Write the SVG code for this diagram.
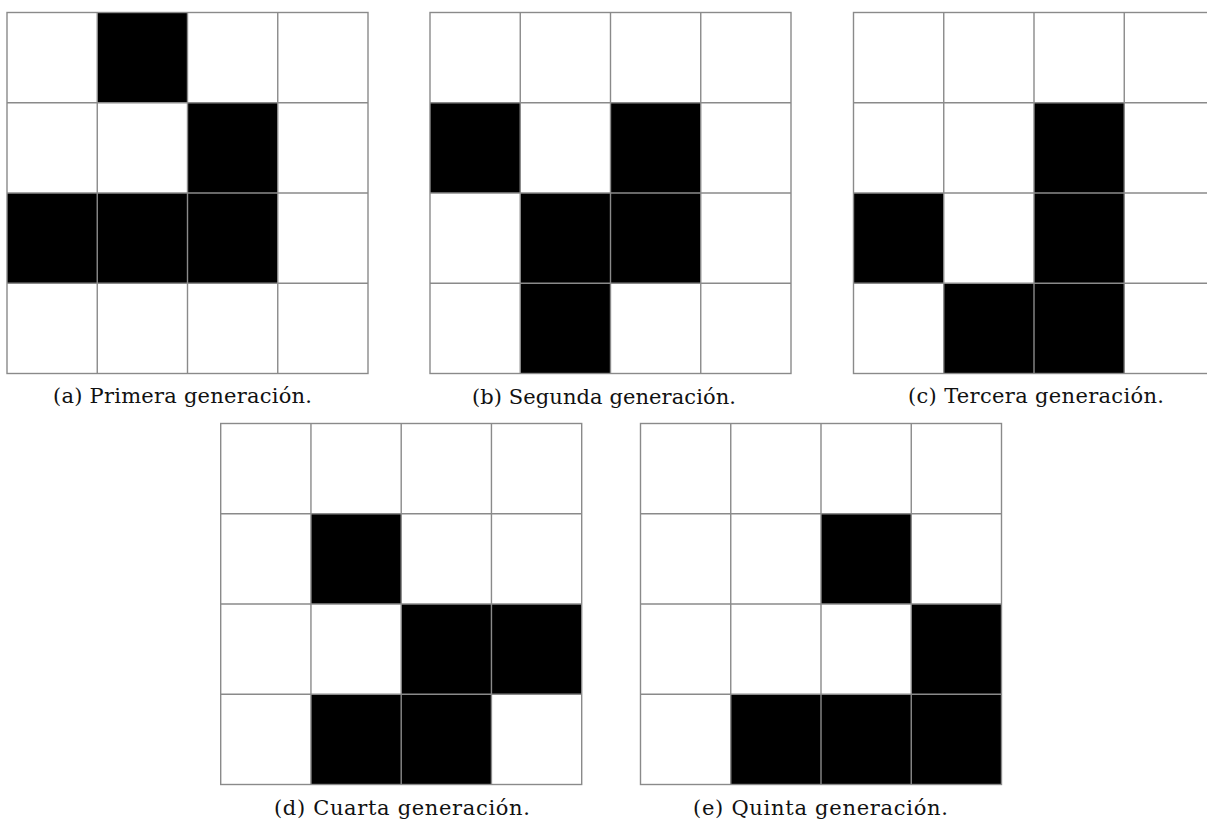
<svg xmlns="http://www.w3.org/2000/svg" width="1207" height="829" viewBox="0 0 1207 829">
<style>
.bg{fill:#ffffff}
.on{fill:#000000}
.grid{fill:none;stroke:#8a8a8a;stroke-width:1.4}
.cap{font-family:"DejaVu Serif","Liberation Serif",serif;font-size:21px;fill:#111111}
</style>
<defs>
<g id="lines">
<rect class="grid" x="0" y="0" width="361" height="361"/>
<path class="grid" d="M90.25 0V361M180.5 0V361M270.75 0V361M0 90.25H361M0 180.5H361M0 270.75H361"/>
</g>
</defs>
<rect x="0" y="0" width="1207" height="829" fill="#ffffff"/>

<g id="grid-a" transform="translate(7,12.5)">
<rect class="bg" x="0" y="0" width="361" height="361"/>
<rect class="on" x="90.25" y="0" width="90.25" height="90.25"/>
<rect class="on" x="180.5" y="90.25" width="90.25" height="90.25"/>
<rect class="on" x="0" y="180.5" width="270.75" height="90.25"/>
<use href="#lines"/>
</g>

<g id="grid-b" transform="translate(430,12.5)">
<rect class="bg" x="0" y="0" width="361" height="361"/>
<rect class="on" x="0" y="90.25" width="90.25" height="90.25"/>
<rect class="on" x="180.5" y="90.25" width="90.25" height="90.25"/>
<rect class="on" x="90.25" y="180.5" width="180.5" height="90.25"/>
<rect class="on" x="90.25" y="270.75" width="90.25" height="90.25"/>
<use href="#lines"/>
</g>

<g id="grid-c" transform="translate(853.5,12.5)">
<rect class="bg" x="0" y="0" width="361" height="361"/>
<rect class="on" x="180.5" y="90.25" width="90.25" height="90.25"/>
<rect class="on" x="0" y="180.5" width="90.25" height="90.25"/>
<rect class="on" x="180.5" y="180.5" width="90.25" height="90.25"/>
<rect class="on" x="90.25" y="270.75" width="180.5" height="90.25"/>
<use href="#lines"/>
</g>

<g id="grid-d" transform="translate(220.7,423.5)">
<rect class="bg" x="0" y="0" width="361" height="361"/>
<rect class="on" x="90.25" y="90.25" width="90.25" height="90.25"/>
<rect class="on" x="180.5" y="180.5" width="180.5" height="90.25"/>
<rect class="on" x="90.25" y="270.75" width="180.5" height="90.25"/>
<use href="#lines"/>
</g>

<g id="grid-e" transform="translate(640.5,423.5)">
<rect class="bg" x="0" y="0" width="361" height="361"/>
<rect class="on" x="180.5" y="90.25" width="90.25" height="90.25"/>
<rect class="on" x="270.75" y="180.5" width="90.25" height="90.25"/>
<rect class="on" x="90.25" y="270.75" width="270.75" height="90.25"/>
<use href="#lines"/>
</g>

<g id="captions">
<text class="cap" x="53" y="403" textLength="259">(a) Primera generación.</text>
<text class="cap" x="472" y="404" textLength="264">(b) Segunda generación.</text>
<text class="cap" x="908" y="403" textLength="256">(c) Tercera generación.</text>
<text class="cap" x="274" y="815" textLength="256">(d) Cuarta generación.</text>
<text class="cap" x="693" y="815" textLength="255">(e) Quinta generación.</text>
</g>
</svg>
